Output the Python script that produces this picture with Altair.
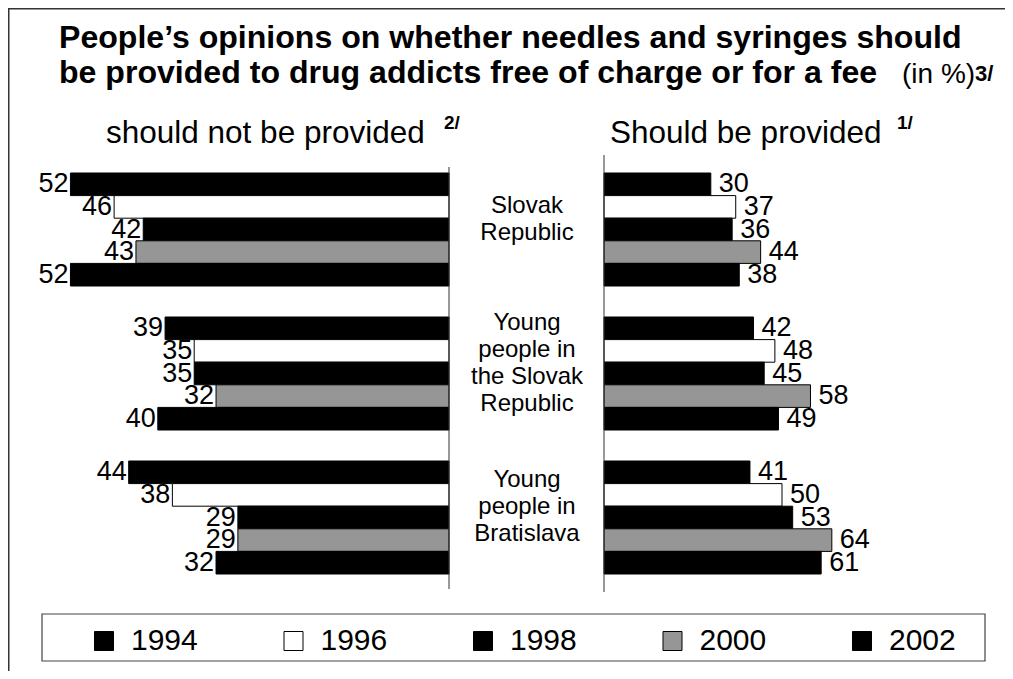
import altair as alt
import pandas as pd

# ---- data ----
years = ["1994", "1996", "1998", "2000", "2002"]
groups = ["Slovak Republic", "Young people in the Slovak Republic", "Young people in Bratislava"]
group_labels = ["Slovak\nRepublic", "Young\npeople in\nthe Slovak\nRepublic", "Young\npeople in\nBratislava"]
not_provided = [[52, 46, 42, 43, 52], [39, 35, 35, 32, 40], [44, 38, 29, 29, 32]]
provided = [[30, 37, 36, 44, 38], [42, 48, 45, 58, 49], [41, 50, 53, 64, 61]]
fills = ["#000000", "#ffffff", "#000000", "#969696", "#000000"]

title_line1 = "People\u2019s opinions on whether needles and syringes should"
title_line2 = "be provided to drug addicts free of charge or for a fee"
title_unit = "(in %)"
left_title = "should not be provided"
right_title = "Should be provided"

rows = []
for gi, g in enumerate(groups):
    for yi, yr in enumerate(years):
        rows.append({"group": g, "year": yr, "no": not_provided[gi][yi], "yes": provided[gi][yi]})
df = pd.DataFrame(rows)

lab_rows = []
for g, lab in zip(groups, group_labels):
    parts = lab.split("\n")
    n = len(parts)
    for i, p in enumerate(parts):
        lab_rows.append({"group": g, "line": p, "off": i - (n - 1) / 2})
lab_df = pd.DataFrame(lab_rows)

FONT = "Liberation Sans"
W, H = 997, 663

yband = alt.Y("group:N", sort=groups, axis=None,
              scale=alt.Scale(range=[165, 566], paddingInner=31 / 144, paddingOuter=0))
yoff = alt.YOffset("year:N", sort=years, scale=alt.Scale(paddingInner=0, paddingOuter=0))
fill_enc = alt.Fill("year:N", sort=years,
                    scale=alt.Scale(domain=years, range=fills),
                    legend=alt.Legend(title=None, orient="none", legendX=81, legendY=618,
                                      direction="horizontal", columns=5,
                                      symbolType="square", symbolSize=361,
                                      symbolStrokeColor="black", symbolStrokeWidth=1,
                                      labelFontSize=30, labelFont=FONT, labelColor="black",
                                      labelOffset=12, columnPadding=80.5, padding=0))

left_scale = alt.Scale(domain=[0, 60], range=[441, 441 - 60 * 7.28])
right_scale = alt.Scale(domain=[0, 100], range=[596, 596 + 100 * 3.56])

base = alt.Chart(df)

left_bars = base.mark_bar(stroke="black", strokeWidth=1).encode(
    x=alt.X("no:Q", scale=left_scale, axis=None, stack=None), y=yband, yOffset=yoff, fill=fill_enc)
left_text = base.mark_text(align="right", baseline="middle", dx=-2, fontSize=27, font=FONT,
                           color="black").encode(
    x=alt.X("no:Q", scale=left_scale, axis=None), y=yband, yOffset=yoff, text="no:Q")
left_axis = alt.Chart(pd.DataFrame({"v": [0]})).mark_rule(color="#333333", strokeWidth=1).encode(
    x=alt.X("v:Q", scale=left_scale, axis=None), y=alt.value(159), y2=alt.value(581))
left = alt.layer(left_bars, left_text, left_axis)

right_bars = base.mark_bar(stroke="black", strokeWidth=1).encode(
    x=alt.X("yes:Q", scale=right_scale, axis=None, stack=None), y=yband, yOffset=yoff, fill=fill_enc)
right_text = base.mark_text(align="left", baseline="middle", dx=8, fontSize=27, font=FONT,
                            color="black").encode(
    x=alt.X("yes:Q", scale=right_scale, axis=None), y=yband, yOffset=yoff, text="yes:Q")
right_axis = alt.Chart(pd.DataFrame({"v": [0]})).mark_rule(color="#333333", strokeWidth=1).encode(
    x=alt.X("v:Q", scale=right_scale, axis=None), y=alt.value(147), y2=alt.value(584))
right = alt.layer(right_bars, right_text, right_axis)

center = alt.Chart(lab_df).mark_text(fontSize=24, font=FONT, align="center", baseline="middle",
                                     color="black").encode(
    x=alt.value(519), y=yband,
    yOffset=alt.YOffset("off:Q", scale=alt.Scale(domain=[-2, 2], range=[-8, 100])),
    text="line:N")


def txt(s, x, y, size, bold=False, align="left"):
    return alt.Chart(pd.DataFrame({"t": [s]})).mark_text(
        font=FONT, fontSize=size, fontWeight="bold" if bold else "normal",
        align=align, baseline="alphabetic", color="black").encode(
        text="t:N", x=alt.value(x), y=alt.value(y))


texts = [
    txt(title_line1, 51, 40, 32.1, bold=True),
    txt(title_line2, 51, 75, 32.1, bold=True),
    txt(title_unit, 894, 75, 28),
    txt("3/", 967, 73, 22, bold=True),
    txt(left_title, 98, 135, 31.5),
    txt("2/", 436, 121, 19, bold=True),
    txt(right_title, 602, 135, 31.5),
    txt("1/", 889, 121, 19, bold=True),
]

deco = alt.Chart(pd.DataFrame({"d": [0]}))
frame_top = deco.mark_rule(color="#333333", strokeWidth=1.5).encode(
    x=alt.value(0), x2=alt.value(W), y=alt.value(0.75))
frame_left = deco.mark_rule(color="#333333", strokeWidth=1.5).encode(
    x=alt.value(0.75), y=alt.value(0), y2=alt.value(H))
legend_box = deco.mark_rect(fill="transparent", stroke="#444444", strokeWidth=1.2).encode(
    x=alt.value(34), x2=alt.value(977), y=alt.value(606), y2=alt.value(653))

chart = alt.layer(frame_top, frame_left, legend_box, left, right, center, *texts).resolve_scale(
    x="independent"
).properties(
    width=W, height=H, autosize=alt.AutoSizeParams(type="none"), padding=0
).configure_view(stroke=None)

chart.save("out.html", embed_options={"renderer": "svg", "actions": False})
